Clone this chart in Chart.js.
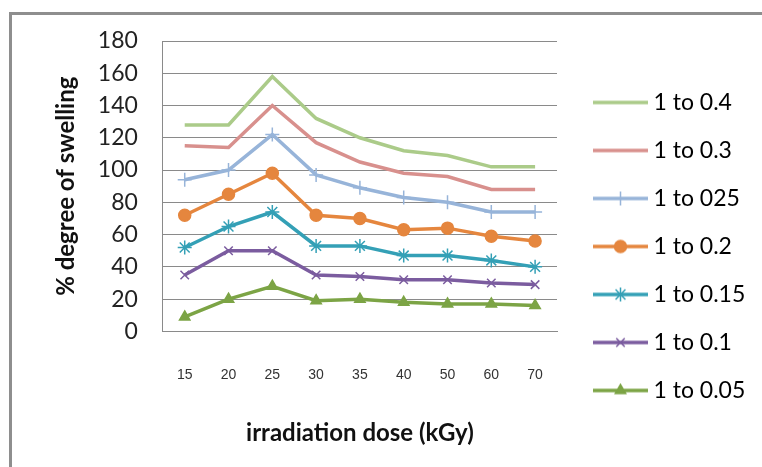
<!DOCTYPE html>
<html>
<head>
<meta charset="utf-8">
<script src="https://cdn.jsdelivr.net/npm/chart.js@4.4.1/dist/chart.umd.min.js"></script>
<style>
  html, body { margin: 0; padding: 0; background: #fff; }
  #frame { position: absolute; left: 9px; top: 12px; width: 800px; height: 500px;
           border-top: 3px solid #8e8e8e; border-left: 3px solid #8e8e8e; }
  #swelling { position: absolute; left: 0; top: 0; }
</style>
</head>
<body>
<div id="frame"></div>
<canvas id="swelling" width="762" height="467"></canvas>
<script>
// dose categories (kGy) and swelling per ratio
const doses = ['15', '20', '25', '30', '35', '40', '50', '60', '70'];
const yTicks = [0, 20, 40, 60, 80, 100, 120, 140, 160, 180];

const ratio04  = [128, 128, 158, 132, 120, 112, 109, 102, 102];
const ratio03  = [115, 114, 140, 117, 105, 98, 96, 88, 88];
const ratio025 = [94, 100, 122, 97, 89, 83, 80, 74, 74];
const ratio02  = [72, 85, 98, 72, 70, 63, 64, 59, 56];
const ratio015 = [52, 65, 74, 53, 53, 47, 47, 44, 40];
const ratio01  = [35, 50, 50, 35, 34, 32, 32, 30, 29];
const ratio005 = [9, 20, 28, 19, 20, 18, 17, 17, 16];

const series = [
  { label: '1 to 0.4',  data: ratio04,  color: '#abcb89', style: false,       r: 0 },
  { label: '1 to 0.3',  data: ratio03,  color: '#d8908d', style: false,       r: 0 },
  { label: '1 to 025',  data: ratio025, color: '#97b4d9', style: 'cross',     r: 7 },
  { label: '1 to 0.2',  data: ratio02,  color: '#e5863e', style: 'circle',    r: 6 },
  { label: '1 to 0.15', data: ratio015, color: '#34a0b6', style: 'star',      r: 7 },
  { label: '1 to 0.1',  data: ratio01,  color: '#7b5c9f', style: 'crossRot',  r: 6 },
  { label: '1 to 0.05', data: ratio005, color: '#7ca445', style: 'triangle',  r: 6 },
];

// small line+marker swatch for the legend
function swatch(s) {
  const c = document.createElement('canvas');
  c.width = 72; c.height = 16;
  const g = c.getContext('2d');
  g.strokeStyle = s.color;
  g.fillStyle = s.color;
  g.lineWidth = 3.5;
  g.beginPath();
  g.moveTo(17, 8); g.lineTo(72, 8);
  g.stroke();
  if (s.style) {
    g.lineWidth = 1.5;
    Chart.helpers.drawPoint(g, { pointStyle: s.style, radius: s.r, rotation: 0, borderWidth: 1.5 }, 44.5, 8);
  }
  return c;
}

const datasets = series.map(s => ({
  label: s.label,
  data: s.data,
  borderColor: s.color,
  backgroundColor: s.color,
  borderWidth: 3.5,
  tension: 0,
  pointStyle: s.style,
  pointRadius: s.r,
  pointBorderWidth: 1.5,
  pointBackgroundColor: s.color,
  pointBorderColor: s.color,
  swatch: swatch(s),
}));

// keep the legend column a fixed width so the plot ends at the same place
const legendWidth = {
  id: 'legendWidth',
  afterInit(chart) {
    const fit = chart.legend.fit;
    chart.legend.fit = function () {
      fit.call(this);
      this.width = 205;
    };
  },
};

new Chart(document.getElementById('swelling'), {
  type: 'line',
  data: { labels: doses, datasets },
  plugins: [legendWidth],
  options: {
    responsive: false,
    animation: false,
    layout: { padding: { left: 52, top: 41, right: 0, bottom: 15 } },
    plugins: {
      tooltip: { enabled: false },
      legend: {
        position: 'right',
        align: 'center',
        labels: {
          usePointStyle: true,
          pointStyleWidth: 60,
          boxHeight: 16,
          padding: 25,
          color: '#111',
          font: { family: 'Lato', size: 23 },
          generateLabels: chart => chart.data.datasets.map((d, i) => ({
            text: d.label,
            pointStyle: d.swatch,
            fillStyle: d.borderColor,
            strokeStyle: d.borderColor,
            lineWidth: 0,
            datasetIndex: i,
            hidden: false,
          })),
        },
      },
    },
    scales: {
      x: {
        offset: true,
        grid: { display: false, drawTicks: false },
        border: { color: '#8a8a8a', width: 1 },
        ticks: { padding: 35, maxRotation: 0, color: '#333',
                 font: { family: 'Liberation Sans', size: 14 } },
        title: { display: true, text: 'irradiation dose (kGy)', color: '#111',
                 font: { family: 'Lato', size: 24, weight: 'bold' }, padding: { top: 1 } },
      },
      y: {
        min: 0, max: 180,
        afterBuildTicks: axis => { axis.ticks = yTicks.map(v => ({ value: v })); },
        grid: { color: '#8a8a8a', lineWidth: 1, drawTicks: false },
        border: { color: '#8a8a8a', width: 1 },
        ticks: { padding: 25, color: '#222', font: { family: 'Lato', size: 23 } },
        title: { display: true, text: '% degree of swelling', color: '#111',
                 font: { family: 'Lato', size: 24, weight: 'bold' }, padding: { top: 0, bottom: -8 } },
      },
    },
  },
});
</script>
</body>
</html>
